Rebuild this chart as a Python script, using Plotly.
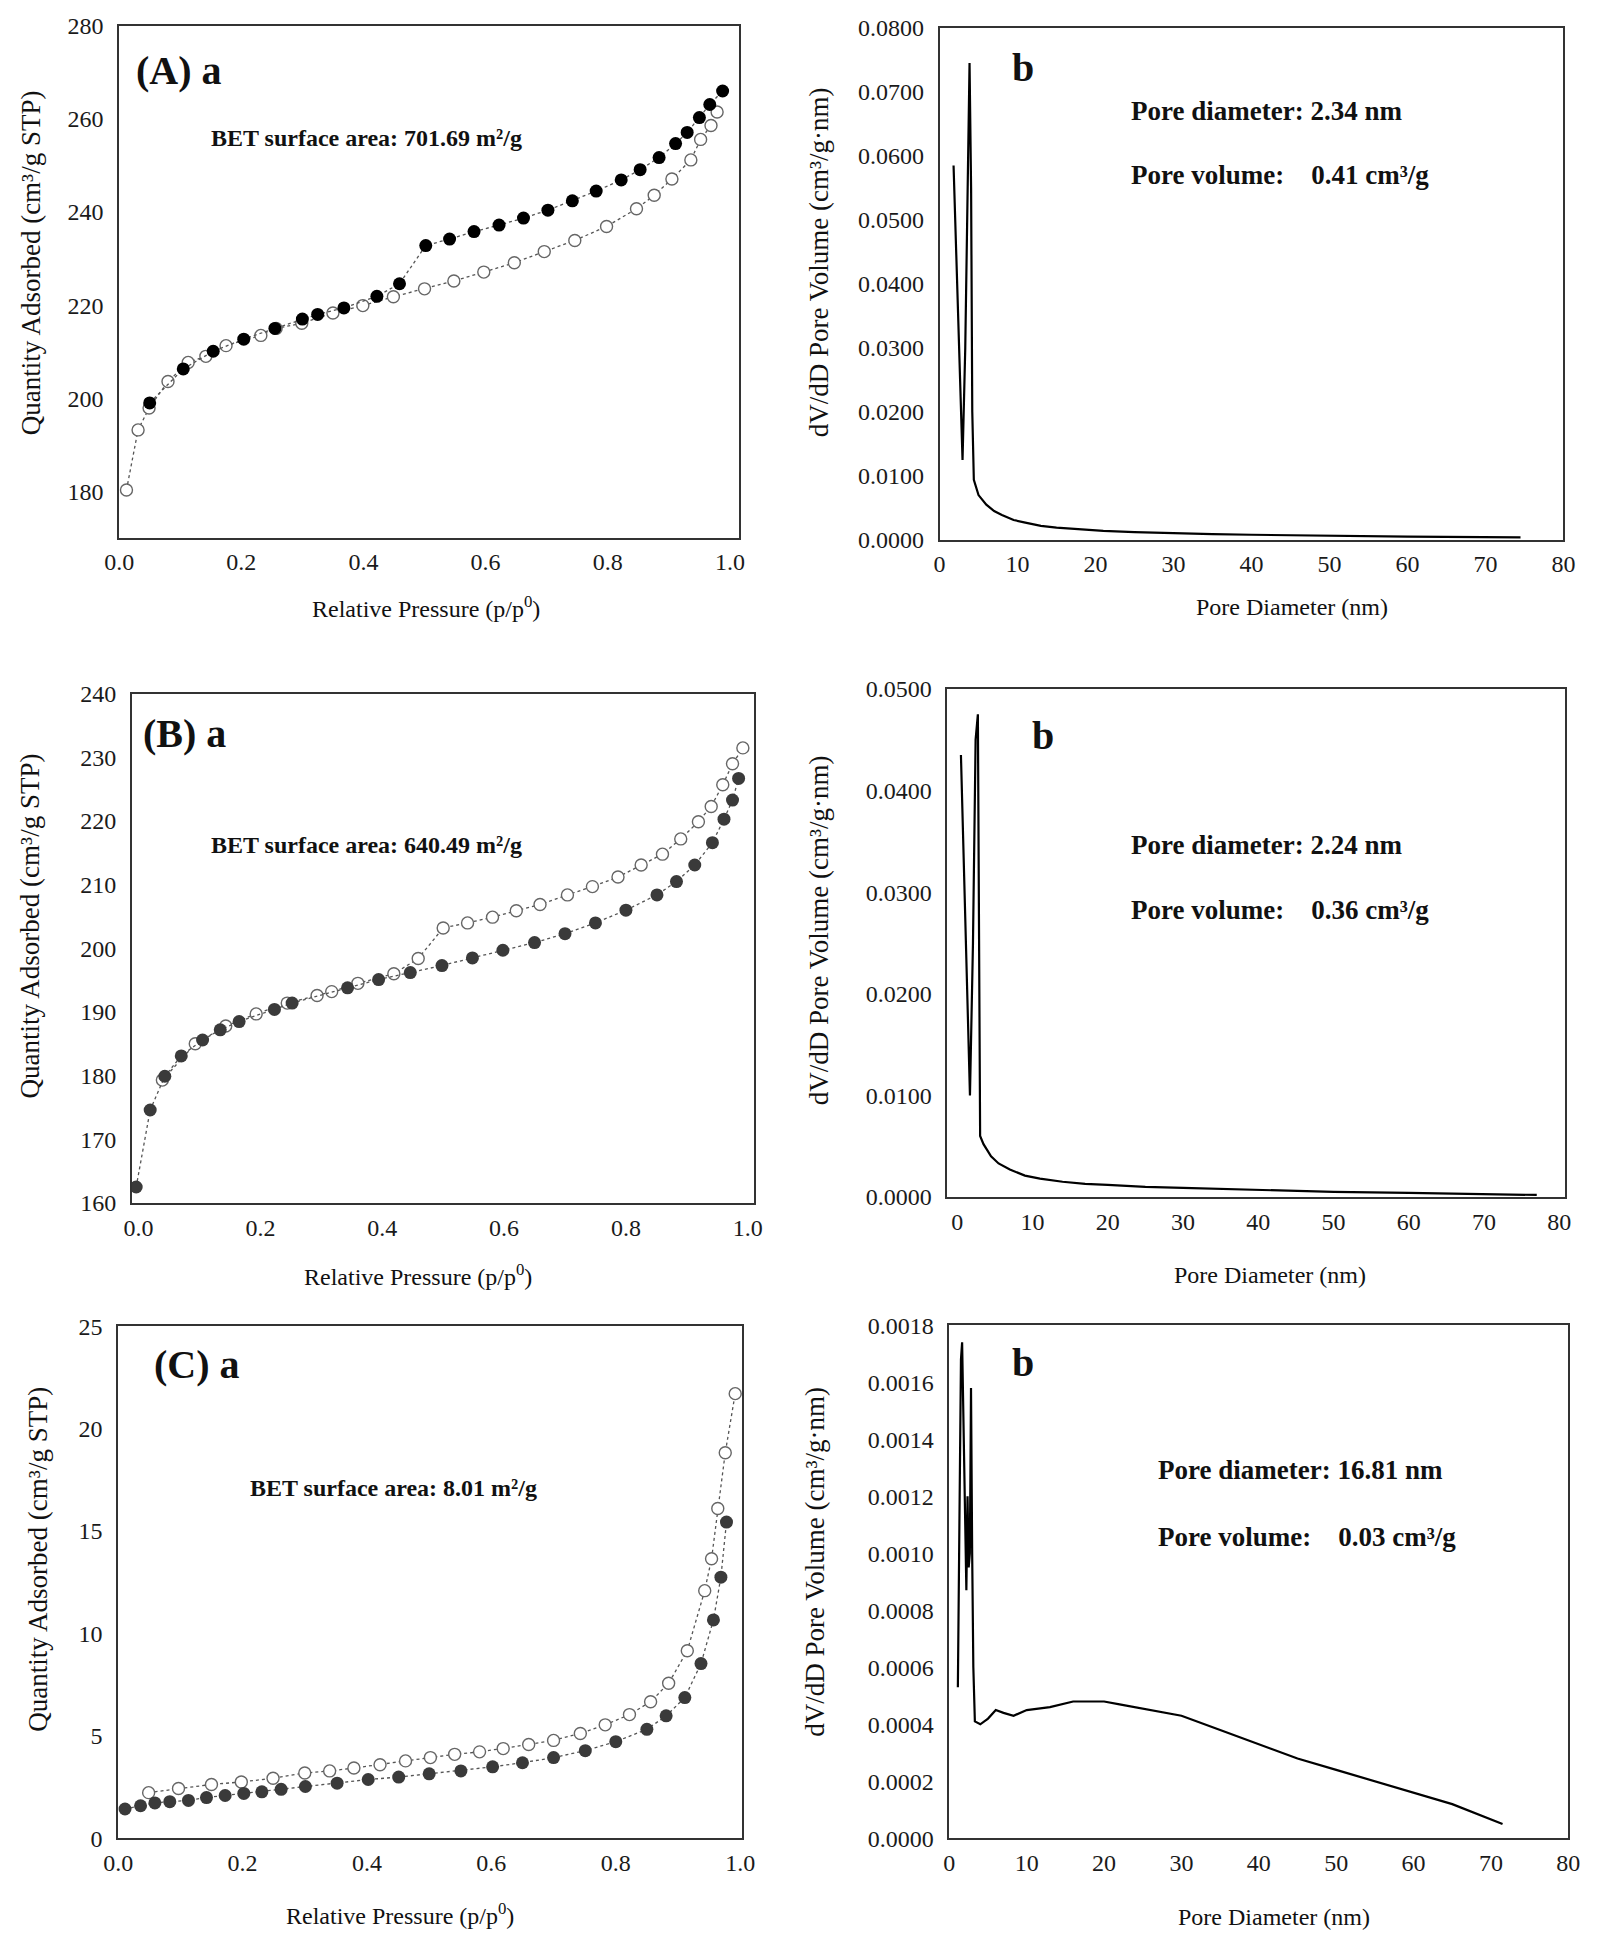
import plotly.graph_objects as go

W, H = 1599, 1948
FONT = "Liberation Serif"

# ---------------- (A) a : isotherm ----------------
A_ads_x = [0.012, 0.031, 0.049, 0.080, 0.113, 0.142, 0.175, 0.232, 0.257, 0.299, 0.350, 0.399, 0.449,
           0.500, 0.548, 0.597, 0.647, 0.696, 0.746, 0.798, 0.847, 0.876, 0.905, 0.936, 0.952, 0.969, 0.979]
A_ads_y = [180.3, 193.2, 197.9, 203.6, 207.7, 209.0, 211.3, 213.5, 215.0, 216.1, 218.3, 219.9, 221.8,
           223.5, 225.2, 227.1, 229.1, 231.5, 233.9, 236.9, 240.7, 243.6, 247.1, 251.2, 255.6, 258.6, 261.5]
A_des_x = [0.050, 0.105, 0.154, 0.204, 0.255, 0.300, 0.325, 0.368, 0.422, 0.459, 0.502, 0.541, 0.581,
           0.622, 0.662, 0.702, 0.742, 0.781, 0.822, 0.853, 0.884, 0.911, 0.930, 0.950, 0.967, 0.988]
A_des_y = [199.0, 206.3, 210.1, 212.7, 215.0, 217.0, 218.0, 219.4, 221.9, 224.6, 232.8, 234.2, 235.8,
           237.2, 238.7, 240.4, 242.4, 244.5, 246.9, 249.1, 251.7, 254.7, 257.1, 260.3, 263.1, 266.0]

# ---------------- (A) b : pore size distribution ----------------
A_psd_x = [1.8, 2.2, 2.6, 2.95, 3.3, 3.6, 3.85, 4.05, 4.2, 4.4, 5.0, 6.0, 7.0, 8.0, 9.5, 11, 13, 15, 18,
           21, 25, 30, 35, 40, 50, 60, 74.5]
A_psd_y = [0.0585, 0.0420, 0.0250, 0.0125, 0.0300, 0.0550, 0.0745, 0.0550, 0.0200, 0.0094, 0.0070,
           0.0055, 0.0045, 0.0039, 0.0031, 0.0027, 0.0022, 0.0019, 0.0016, 0.0014, 0.0012, 0.0010,
           0.0009, 0.0008, 0.0006, 0.0005, 0.0004]

# ---------------- (B) a ----------------
B_ads_x = [0.039, 0.093, 0.143, 0.193, 0.244, 0.293, 0.317, 0.360, 0.419, 0.459, 0.500, 0.540, 0.581,
           0.620, 0.659, 0.704, 0.745, 0.787, 0.825, 0.860, 0.890, 0.919, 0.940, 0.959, 0.975, 0.992]
B_ads_y = [179.3, 185.0, 187.8, 189.7, 191.4, 192.6, 193.2, 194.5, 196.0, 198.4, 203.2, 204.0, 204.9,
           205.9, 206.9, 208.4, 209.7, 211.2, 213.1, 214.8, 217.2, 219.9, 222.3, 225.7, 229.0, 231.5]
B_des_x = [-0.004, 0.019, 0.043, 0.070, 0.105, 0.134, 0.165, 0.223, 0.252, 0.343, 0.394, 0.446, 0.498,
           0.548, 0.598, 0.650, 0.700, 0.750, 0.800, 0.851, 0.883, 0.913, 0.942, 0.961, 0.975, 0.985]
B_des_y = [162.5, 174.6, 179.9, 183.1, 185.6, 187.2, 188.5, 190.4, 191.4, 193.8, 195.1, 196.2, 197.3,
           198.5, 199.7, 200.9, 202.3, 204.0, 206.0, 208.4, 210.5, 213.1, 216.6, 220.3, 223.3, 226.7]

# ---------------- (B) b ----------------
B_psd_x = [0.5, 0.9, 1.3, 1.7, 2.1, 2.45, 2.75, 2.9, 3.05, 3.5, 4.5, 5.5, 7.0, 9.0, 11, 14, 17, 20, 25,
           30, 40, 50, 60, 70, 77]
B_psd_y = [0.0435, 0.0330, 0.0200, 0.0100, 0.0250, 0.0450, 0.0475, 0.0280, 0.0060, 0.0052, 0.0040,
           0.0033, 0.0027, 0.0021, 0.0018, 0.0015, 0.0013, 0.0012, 0.0010, 0.0009, 0.0007, 0.0005,
           0.0004, 0.0003, 0.0002]

# ---------------- (C) a ----------------
C_ads_x = [0.049, 0.097, 0.150, 0.198, 0.249, 0.300, 0.340, 0.379, 0.421, 0.462, 0.502, 0.541, 0.581,
           0.619, 0.660, 0.700, 0.743, 0.783, 0.822, 0.856, 0.885, 0.915, 0.943, 0.954, 0.964, 0.976, 0.992]
C_ads_y = [2.23, 2.43, 2.63, 2.75, 2.93, 3.19, 3.29, 3.43, 3.59, 3.78, 3.94, 4.10, 4.22,
           4.38, 4.58, 4.78, 5.12, 5.54, 6.04, 6.67, 7.57, 9.16, 12.09, 13.65, 16.10, 18.82, 21.71]
C_des_x = [0.011, 0.036, 0.059, 0.083, 0.113, 0.142, 0.172, 0.202, 0.231, 0.262, 0.301, 0.352, 0.402,
           0.451, 0.500, 0.551, 0.602, 0.650, 0.700, 0.751, 0.800, 0.850, 0.881, 0.911, 0.937, 0.957,
           0.969, 0.978]
C_des_y = [1.43, 1.59, 1.73, 1.79, 1.85, 1.99, 2.09, 2.19, 2.27, 2.39, 2.53, 2.69, 2.87,
           2.99, 3.15, 3.29, 3.49, 3.69, 3.94, 4.28, 4.72, 5.32, 5.98, 6.87, 8.53, 10.66, 12.75, 15.44]

# ---------------- (C) b ----------------
C_psd_x = [1.1, 1.2, 1.35, 1.5, 1.65, 1.8, 2.0, 2.2, 2.35, 2.5, 2.65, 2.8, 2.95, 3.1, 3.3, 4.0, 5.0, 6.0,
           7.0, 8.3, 10, 13, 16, 20, 22, 26, 30, 35, 40, 45, 50, 55, 60, 65, 71.5]
C_psd_y = [0.00053, 0.00085, 0.00132, 0.00168, 0.00174, 0.00150, 0.00105, 0.00087, 0.00120, 0.00095,
           0.00100, 0.00158, 0.00100, 0.00060, 0.00041, 0.00040, 0.00042, 0.00045, 0.00044, 0.00043,
           0.00045, 0.00046, 0.00048, 0.00048, 0.00047, 0.00045, 0.00043, 0.00038, 0.00033, 0.00028,
           0.00024, 0.00020, 0.00016, 0.00012, 0.00005]

# ---------------- texts ----------------
iso_xtitle = "Relative Pressure (p/p<sup>0</sup>)"
iso_ytitle = "Quantity Adsorbed (cm³/g STP)"
psd_xtitle = "Pore Diameter (nm)"
psd_ytitle = "dV/dD Pore Volume (cm³/g·nm)"
NB = "\u00a0"

fig = go.Figure()

LINE_COL = "#555555"


def iso(ax, ay, dx, dy, xa, ya, fill):
    fig.add_trace(go.Scatter(x=ax, y=ay, mode="lines+markers", xaxis=xa, yaxis=ya,
                             line=dict(color=LINE_COL, width=1.3, dash="dot"),
                             marker=dict(symbol="circle", size=12, color="white",
                                         line=dict(color="#666666", width=1.4)),
                             showlegend=False))
    fig.add_trace(go.Scatter(x=dx, y=dy, mode="lines+markers", xaxis=xa, yaxis=ya,
                             line=dict(color=LINE_COL, width=1.3, dash="dot"),
                             marker=dict(symbol="circle", size=13, color=fill,
                                         line=dict(color=fill, width=0)),
                             showlegend=False))


def psd(px, py, xa, ya):
    fig.add_trace(go.Scatter(x=px, y=py, mode="lines", xaxis=xa, yaxis=ya,
                             line=dict(color="black", width=2.2), showlegend=False))


iso(A_ads_x, A_ads_y, A_des_x, A_des_y, "x", "y", "black")
psd(A_psd_x, A_psd_y, "x2", "y2")
iso(B_ads_x, B_ads_y, B_des_x, B_des_y, "x3", "y3", "#3a3a3a")
psd(B_psd_x, B_psd_y, "x4", "y4")
iso(C_ads_x, C_ads_y, C_des_x, C_des_y, "x5", "y5", "#3a3a3a")
psd(C_psd_x, C_psd_y, "x6", "y6")


def dom(l, r, t, b):
    return [l / W, r / W], [1 - b / H, 1 - t / H]


boxes = [
    (106, 737, 13, 532),
    (941, 1576, 15, 534),
    (119, 752, 690, 1206),
    (949, 1578, 685, 1200),
    (105, 740, 1331, 1850),
    (951, 1581, 1330, 1850),
]
xranges = [[0, 1.015], [0, 80], [-0.011, 1.01], [-1.3, 80.8], [0, 1.003], [0, 80]]
yranges = [[170, 280], [0, 0.08], [160, 240], [0, 0.05], [0, 25], [0, 0.0018]]
xdt = [0.2, 10, 0.2, 10, 0.2, 10]
xfmt = [".1f", "d", ".1f", "d", ".1f", "d"]
ydt = [20, 0.01, 10, 0.01, 5, 0.0002]
yfmt = ["d", ".4f", "d", ".4f", "d", ".4f"]

tickfont = dict(family=FONT, size=24, color="#1a1a1a")
layout = {}
for i, (l, r, t, b) in enumerate(boxes):
    xd, yd = dom(l, r, t, b)
    n = "" if i == 0 else str(i + 1)
    layout["xaxis" + n] = dict(domain=xd, range=xranges[i], anchor="y" + n, dtick=xdt[i], tick0=0,
                               tickformat=xfmt[i], showline=True, mirror=True, linecolor="#333333",
                               linewidth=1.6, ticks="", showgrid=False, zeroline=False,
                               tickfont=tickfont, ticklabelstandoff=2)
    layout["yaxis" + n] = dict(domain=yd, range=yranges[i], anchor="x" + n, dtick=ydt[i], tick0=0,
                               tickformat=yfmt[i], showline=True, mirror=True, linecolor="#333333",
                               linewidth=1.6, ticks="", showgrid=False, zeroline=False,
                               tickfont=tickfont, ticklabelstandoff=9)

anns = []


def txt(s, x, y, size, bold=False, xanchor="left", angle=0):
    anns.append(dict(text=("<b>%s</b>" % s) if bold else s, x=x / W, y=1 - y / H, xref="paper",
                     yref="paper", xanchor=xanchor, yanchor="middle", showarrow=False,
                     textangle=angle, font=dict(family=FONT, size=size, color="#111111")))


# panel labels
txt("(A) a", 121, 58, 40, True)
txt("b", 1013, 55, 40, True)
txt("(B) a", 128, 730, 40, True)
txt("b", 1033, 732, 40, True)
txt("(C) a", 139, 1370, 40, True)
txt("b", 1013, 1368, 40, True)

# inner annotations
txt("BET surface area: 701.69 m²/g", 197, 127, 24, True)
txt("Pore diameter: 2.34 nm", 1134, 99, 27, True)
txt("Pore volume:" + NB * 4 + "0.41 cm³/g", 1134, 164, 27, True)
txt("BET surface area: 640.49 m²/g", 197, 843, 24, True)
txt("Pore diameter: 2.24 nm", 1134, 843, 27, True)
txt("Pore volume:" + NB * 4 + "0.36 cm³/g", 1134, 909, 27, True)
txt("BET surface area: 8.01 m²/g", 237, 1495, 24, True)
txt("Pore diameter: 16.81 nm", 1161, 1477, 27, True)
txt("Pore volume:" + NB * 4 + "0.03 cm³/g", 1161, 1545, 27, True)

# axis titles
txt(iso_xtitle, 418, 602, 24, xanchor="center")
txt(psd_xtitle, 1300, 602, 24, xanchor="center")
txt(iso_xtitle, 410, 1279, 24, xanchor="center")
txt(psd_xtitle, 1277, 1279, 24, xanchor="center")
txt(iso_xtitle, 392, 1927, 24, xanchor="center")
txt(psd_xtitle, 1281, 1930, 24, xanchor="center")

txt(iso_ytitle, 16, 253, 27, xanchor="center", angle=-90)
txt(psd_ytitle, 818, 253, 27, xanchor="center", angle=-90)
txt(iso_ytitle, 15, 925, 27, xanchor="center", angle=-90)
txt(psd_ytitle, 818, 930, 27, xanchor="center", angle=-90)
txt(iso_ytitle, 24, 1567, 27, xanchor="center", angle=-90)
txt(psd_ytitle, 814, 1570, 27, xanchor="center", angle=-90)

fig.update_layout(width=W, height=H, margin=dict(l=0, r=0, t=0, b=0), paper_bgcolor="white",
                  plot_bgcolor="white", showlegend=False, annotations=anns,
                  font=dict(family=FONT, color="#111111"), **layout)

fig.write_html("out.html", config={"displayModeBar": False},
               post_script="document.body.style.margin='0';")
